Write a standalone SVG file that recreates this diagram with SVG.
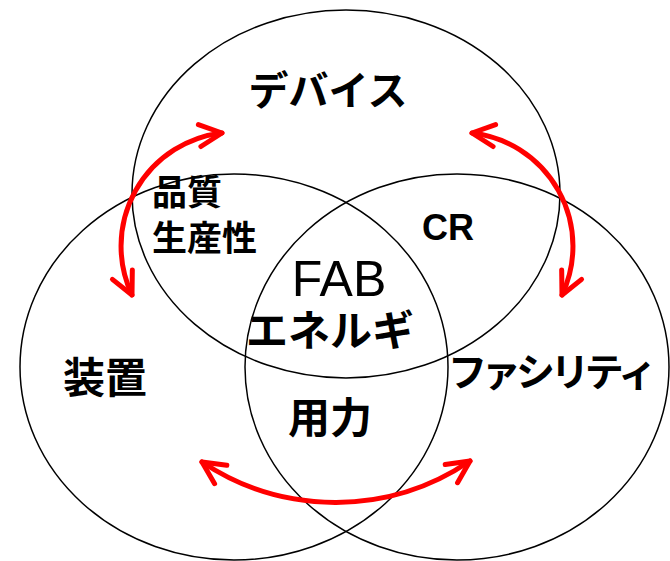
<svg xmlns="http://www.w3.org/2000/svg" width="670" height="561" viewBox="0 0 670 561">
<style>
.c{fill:none;stroke:#000;stroke-width:1.5}
.j{font-family:"Noto Sans CJK JP","Noto Sans CJK SC",sans-serif;font-weight:bold;fill:#000;text-anchor:middle}
.l{font-family:"Liberation Sans",Arial,sans-serif;fill:#000;text-anchor:middle}
.a{fill:none;stroke:#ff0000;stroke-width:5;stroke-linecap:round}
</style>
<defs>
<marker id="ah" viewBox="-30 -16 36 32" refX="0" refY="0" markerWidth="36" markerHeight="32" markerUnits="userSpaceOnUse" orient="auto-start-reverse">
<path d="M-22.5,-11 L0,0 L-22.5,11" fill="none" stroke="#ff0000" stroke-width="5" stroke-linecap="round" stroke-linejoin="round"/>
</marker>
</defs>
<rect width="670" height="561" fill="#fff"/>
<g id="device">
<ellipse class="c" cx="346" cy="194" rx="214" ry="184"/>
<text class="j" x="328" y="105" font-size="40">デバイス</text>
</g>
<g id="equipment">
<ellipse class="c" cx="234" cy="367" rx="214" ry="193"/>
<text class="j" x="105" y="393" font-size="42">装置</text>
</g>
<g id="facility">
<ellipse class="c" cx="457" cy="367" rx="212" ry="193"/>
<text class="j" x="551" y="386" font-size="39" style="font-feature-settings:'palt'">ファシリティ</text>
</g>
<g id="quality">
<text class="j" x="152" y="205" font-size="35" style="text-anchor:start">品質</text>
<text class="j" x="152" y="251" font-size="35" style="text-anchor:start">生産性</text>
</g>
<g id="cr">
<text class="l" x="448" y="240" font-size="36" font-weight="bold">CR</text>
</g>
<g id="fab">
<text class="l" x="339" y="296" font-size="50">FAB</text>
<text class="j" x="330" y="346" font-size="42">エネルギ</text>
</g>
<g id="utility">
<text class="j" x="330" y="433" font-size="42">用力</text>
</g>
<g id="connectors">
<path class="a" d="M222,133 A114,114 0 0 0 132,295" marker-start="url(#ah)" marker-end="url(#ah)"/>
<path class="a" d="M472,133 A114,114 0 0 1 562,295" marker-start="url(#ah)" marker-end="url(#ah)"/>
<path class="a" d="M202,462 A240,240 0 0 0 470,461" marker-start="url(#ah)" marker-end="url(#ah)"/>
</g>
</svg>
